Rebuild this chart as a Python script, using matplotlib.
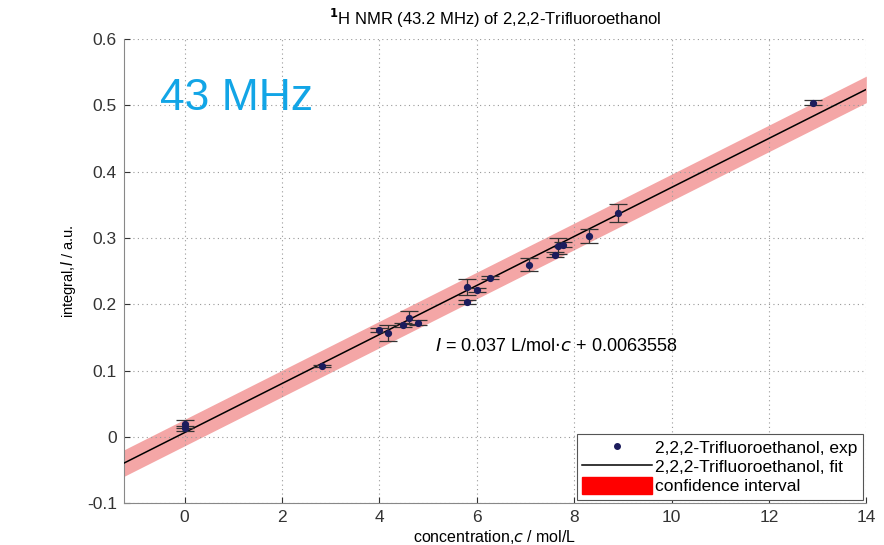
import numpy as np
import matplotlib.pyplot as plt
from matplotlib.lines import Line2D
from matplotlib.patches import Patch

plt.rcParams['font.family'] = ['Liberation Sans', 'DejaVu Sans']

# measured points (concentration in mol/L, integral in a.u.)
conc = [0.0, 0.0, 2.83, 4.0, 4.17, 4.48, 4.6, 4.8, 5.8, 5.8, 6.0, 6.27,
        7.08, 7.6, 7.67, 7.77, 8.3, 8.9, 12.9]
integral = [0.020, 0.013, 0.107, 0.161, 0.157, 0.169, 0.180, 0.172, 0.226, 0.204,
            0.222, 0.240, 0.260, 0.275, 0.288, 0.290, 0.303, 0.338, 0.504]
err = [0.006, 0.004, 0.002, 0.003, 0.012, 0.003, 0.010, 0.004, 0.012, 0.003,
       0.003, 0.002, 0.010, 0.004, 0.012, 0.004, 0.010, 0.014, 0.004]

slope = 0.037
intercept = 0.0063558
ci_half = 0.02

fig = plt.figure(figsize=(8.84, 5.45), dpi=100)
ax = fig.add_axes([0.140, 0.077, 0.840, 0.851])

xf = np.array([-1.25, 14])
yf = slope * xf + intercept
ax.fill_between(xf, yf - ci_half, yf + ci_half, color='#f4a6a6', lw=0, zorder=1)
ax.plot(xf, yf, color='black', lw=1.1, zorder=3)
ax.errorbar(conc, integral, yerr=err, fmt='none', ecolor='#333333', elinewidth=0.9,
            capsize=6.5, capthick=0.9, zorder=4)
ax.plot(conc, integral, 'o', color='#1c1c5c', ms=4.2, zorder=5)

ax.set_xlim(-1.25, 14)
ax.set_ylim(-0.1, 0.6)
ax.set_xticks(range(0, 15, 2))
ax.set_yticks(np.arange(-0.1, 0.61, 0.1))
ax.set_yticklabels(['-0.1', '0', '0.1', '0.2', '0.3', '0.4', '0.5', '0.6'])
ax.grid(True, ls=(0, (1, 3)), color='#999999', lw=0.8)
ax.tick_params(direction='in', labelsize=12.5, colors='#333333', length=4, pad=5)
for s in ['top', 'right']:
    ax.spines[s].set_visible(False)
for s in ['left', 'bottom']:
    ax.spines[s].set_color('#888888')

ax.set_xlabel('concentration,$\\it{c}$ / mol/L', fontsize=11.5, labelpad=2)
ax.set_ylabel('integral,$\\it{I}$ / a.u.', fontsize=10.5, labelpad=6)
ax.set_title('$^{\\mathbf{1}}$H NMR (43.2 MHz) of 2,2,2-Trifluoroethanol', fontsize=12, pad=10)

ax.text(5.15, 0.136, '$\\it{I}$ = 0.037 L/mol$\\cdot$$\\it{c}$ + 0.0063558', fontsize=13,
        va='center', ha='left')
ax.text(-0.5, 0.51, '43 MHz', fontsize=32, color='#12a5e6', va='center', ha='left')

handles = [Line2D([], [], ls='none', marker='o', color='#1c1c5c', ms=4),
           Line2D([], [], color='black', lw=1.1),
           Patch(color='red')]
labels = ['2,2,2-Trifluoroethanol, exp', '2,2,2-Trifluoroethanol, fit', 'confidence interval']
leg = ax.legend(handles, labels, loc='lower right', fontsize=12.5, fancybox=False,
                framealpha=1, edgecolor='#555555', borderaxespad=0.2, handlelength=4.0,
                handleheight=1.1, handletextpad=0.2, labelspacing=0.1, borderpad=0.3)
leg.get_frame().set_linewidth(0.8)

fig.savefig('out.png', dpi=100)
